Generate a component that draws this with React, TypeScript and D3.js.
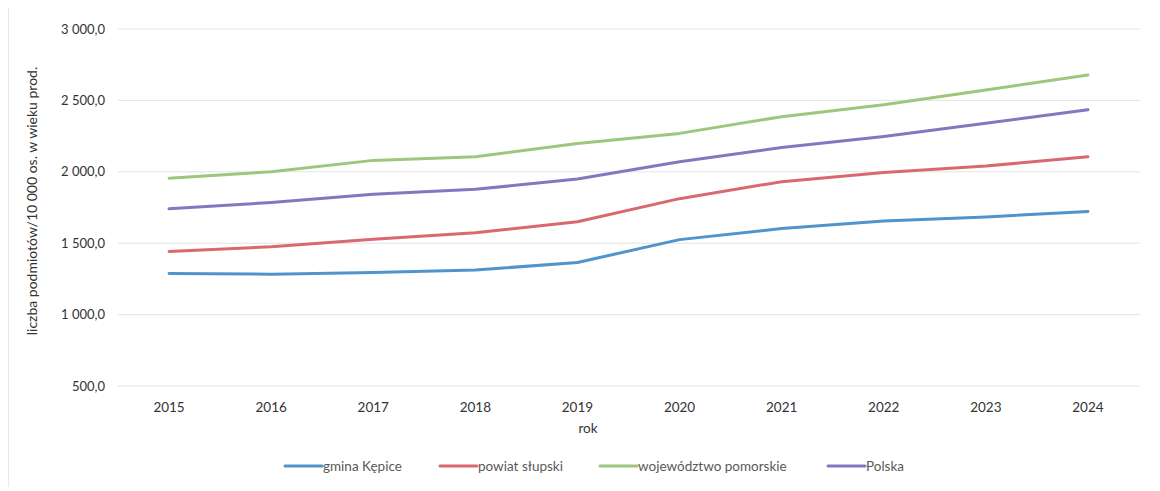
import React from "react";
import * as d3 from "d3";

const years = ["2015", "2016", "2017", "2018", "2019", "2020", "2021", "2022", "2023", "2024"];
const gminaKepice = [1288, 1283, 1295, 1312, 1365, 1525, 1603, 1656, 1684, 1722];
const powiatSlupski = [1442, 1475, 1527, 1573, 1650, 1812, 1931, 1995, 2040, 2106];
const wojPomorskie = [1955, 2001, 2080, 2106, 2198, 2269, 2386, 2470, 2573, 2678];
const polska = [1741, 1785, 1842, 1877, 1949, 2071, 2170, 2248, 2340, 2435];
const yTicks = [500, 1000, 1500, 2000, 2500, 3000];

const seriesNames = ["gmina Kępice", "powiat słupski", "województwo pomorskie", "Polska"];
const seriesValues = [gminaKepice, powiatSlupski, wojPomorskie, polska];
const colors = ["#4f94cd", "#d9696e", "#9dc77c", "#8577bf"];

const W = 1160;
const H = 491;
const FONT = "Lato, 'Open Sans', sans-serif";

export default function App() {
  const x = d3.scalePoint<string>().domain(years).range([118, 1139]).padding(0.5);
  const y = d3.scaleLinear().domain([500, 3000]).range([386, 29]);
  const line = d3
    .line<number>()
    .x((_, i) => x(years[i]) as number)
    .y((d) => y(d))
    .curve(d3.curveLinear);

  const fmt = (v: number) => {
    const s = d3.format(",.1f")(v);
    return s.replace(/,/g, " ").replace(".", ",");
  };

  const legendX = [285, 440, 600, 828];

  return (
    <div style={{ position: "absolute", left: 0, top: 0 }}>
      <svg width={W} height={H} style={{ display: "block", background: "#fff" }}>
        <line x1={8.5} x2={8.5} y1={8} y2={H - 4} stroke="#e8e8e8" />
        {yTicks.map((t) => (
          <g key={t}>
            <line x1={118} x2={1140} y1={y(t)} y2={y(t)} stroke="#e3e3e3" strokeWidth={1} />
            <text
              x={105}
              y={y(t)}
              dy="0.35em"
              textAnchor="end"
              fontFamily={FONT}
              fontSize={13}
              fill="#333"
            >
              {fmt(t)}
            </text>
          </g>
        ))}
        {years.map((yr) => (
          <text
            key={yr}
            x={x(yr) as number}
            y={412}
            textAnchor="middle"
            fontFamily={FONT}
            fontSize={13.5}
            fill="#333"
          >
            {yr}
          </text>
        ))}
        <text x={588} y={433} textAnchor="middle" fontFamily={FONT} fontSize={13.5} fill="#333">
          rok
        </text>
        <text
          transform="translate(37,201) rotate(-90)"
          textAnchor="middle"
          fontFamily={FONT}
          fontSize={14}
          fill="#333"
        >
          liczba podmiotów/10 000 os. w wieku prod.
        </text>
        {seriesValues.map((vals, i) => (
          <path
            key={seriesNames[i]}
            d={line(vals) as string}
            fill="none"
            stroke={colors[i]}
            strokeWidth={3}
            strokeLinecap="round"
            strokeLinejoin="round"
          />
        ))}
        {seriesNames.map((name, i) => (
          <g key={name} transform={`translate(${legendX[i]},466)`}>
            <line x1={0} x2={37} y1={0} y2={0} stroke={colors[i]} strokeWidth={3} strokeLinecap="round" />
            <text x={38} y={0} dy="0.35em" fontFamily={FONT} fontSize={13.5} fill="#595959">
              {name}
            </text>
          </g>
        ))}
      </svg>
    </div>
  );
}
